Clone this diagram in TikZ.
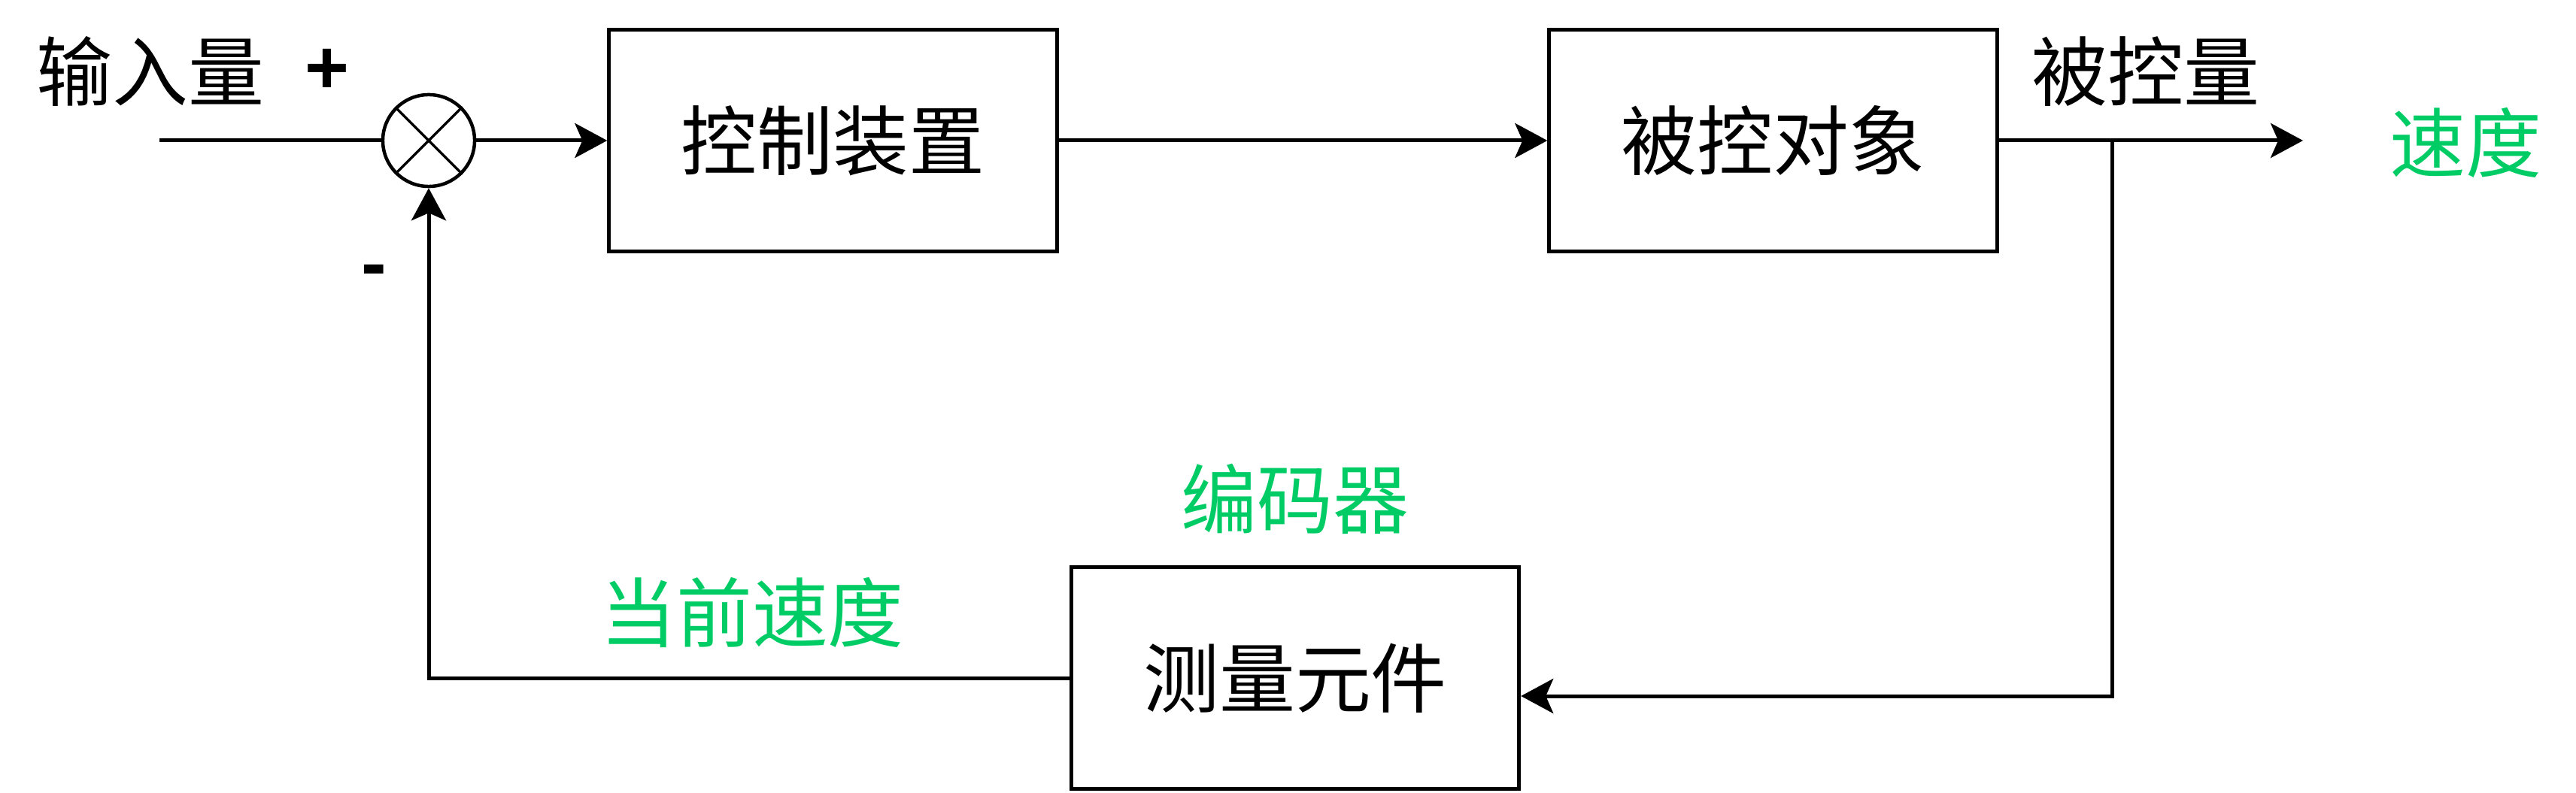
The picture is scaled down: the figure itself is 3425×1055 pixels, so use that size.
\documentclass[tikz,border=0pt]{standalone}
\usepackage{fontspec}
\setmainfont{Noto Sans CJK SC}
\newfontfamily\signfont{Liberation Sans}
\usetikzlibrary{arrows.meta}
\definecolor{labelgreen}{RGB}{0,204,102}
\begin{document}
\begin{tikzpicture}[x=0.01cm,y=-0.01cm,
  blockbox/.style={draw, line width=0.05cm, minimum width=5.95cm, minimum height=2.95cm, inner sep=0pt, font=\fontsize{28.7pt}{34pt}\selectfont},
  wire/.style={line width=0.05cm},
  arr/.style={wire, -{Stealth[length=0.43cm,width=0.46cm,inset=0.10cm]}},
  lbl/.style={font=\fontsize{28.7pt}{34pt}\selectfont, inner sep=0pt},
  greentext/.style={text=labelgreen},
  sign/.style={font=\signfont\bfseries\fontsize{28.7pt}{34pt}\selectfont, inner sep=0pt}]
\useasboundingbox (0,0) rectangle (3425,1055);
\fill[white] (0,0) rectangle (3425,1055);
% blocks
\node[blockbox] (ctrl) at (1107.5,187) {控制装置};
\node[blockbox] (plant) at (2357.5,187) {被控对象};
\node[blockbox] (meas) at (1722,902) {测量元件};
% summing junction
\node[draw, circle, minimum size=1.22cm, inner sep=0pt, line width=0.045cm] (sum) at (570,187) {};
\draw[line width=0.035cm] (sum.north west) -- (sum.south east);
\draw[line width=0.035cm] (sum.north east) -- (sum.south west);
% coordinates
\coordinate (in) at (212,187);
\coordinate (out) at (3062,187);
\coordinate (br) at (2808,187);
\coordinate (fbr) at (2808,926);
% connectors
\draw[wire] (in) -- (sum.west);
\draw[arr] (sum.east) -- (ctrl.west);
\draw[arr] (ctrl.east) -- (plant.west);
\draw[arr] (plant.east) -- (out);
\draw[arr] (br) -- (fbr) -- (meas.east |- fbr);
\draw[arr] (meas.west) -| (sum.south);
% labels
\node[lbl] (inlbl) at (200,95) {输入量};
\node[sign] (plus) at (435,95) {+};
\node[sign] (minus) at (497,368) {-};
\node[lbl] (outlbl) at (2853,95) {被控量};
\node[lbl, greentext] (speed) at (3278,190) {速度};
\node[lbl, greentext] (enc) at (1722,664) {编码器};
\node[lbl, greentext] (cur) at (1000,815) {当前速度};
\end{tikzpicture}
\end{document}
